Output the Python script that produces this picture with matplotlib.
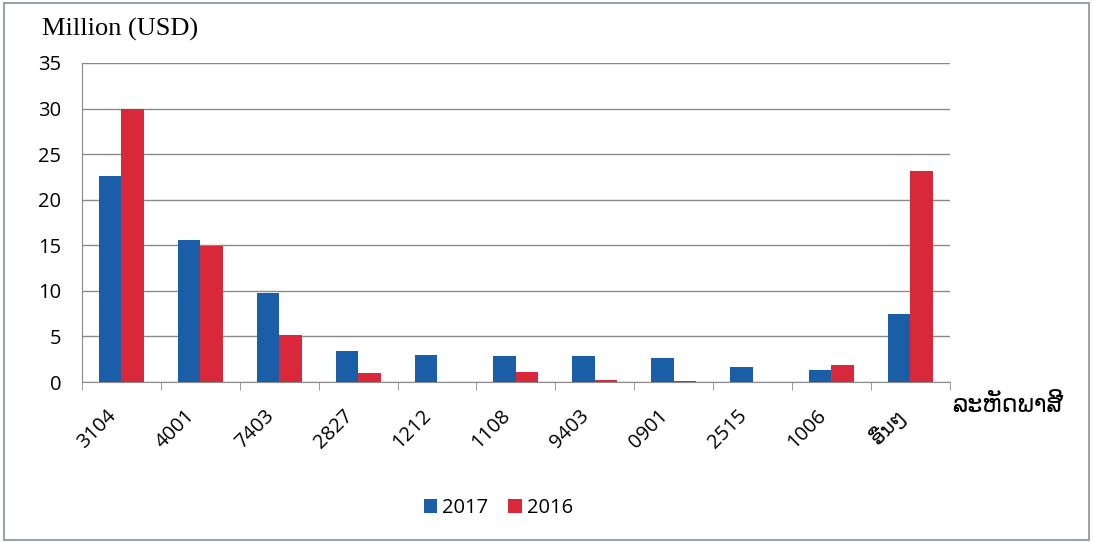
import matplotlib
matplotlib.use("Agg")
import matplotlib.pyplot as plt
import matplotlib.transforms as mtransforms
import numpy as np
from matplotlib.patches import Rectangle

categories = ["3104", "4001", "7403", "2827", "1212", "1108", "9403", "0901", "2515", "1006", "ອື່ນໆ"]
values_2017 = [22.6, 15.6, 9.8, 3.4, 3.0, 2.8, 2.8, 2.6, 1.6, 1.3, 7.5]
values_2016 = [30.0, 14.9, 5.2, 1.0, 0.0, 1.1, 0.2, 0.1, 0.0, 1.9, 23.1]
yticks = [0, 5, 10, 15, 20, 25, 30, 35]

blue = "#1b5ea8"
red = "#d8283a"

fig = plt.figure(figsize=(10.93, 5.43), dpi=100)
fig.patch.set_facecolor("white")
fig.add_artist(Rectangle((0.004, 0.006), 0.992, 0.988, transform=fig.transFigure,
                         fill=False, edgecolor="#9aa3ad", linewidth=1.5))

ax = fig.add_axes([0.075, 0.2965, 0.794, 0.5875])
x = np.arange(len(categories))
w = 0.285
ax.bar(x - w / 2, values_2017, width=w, color=blue, label="2017", zorder=3)
ax.bar(x + w / 2, values_2016, width=w, color=red, label="2016", zorder=3)

ax.set_xlim(-0.5, len(categories) - 0.5)
ax.set_ylim(0, 35)
ax.set_yticks(yticks)
ax.set_yticklabels([str(t) for t in yticks], fontsize=14.5, family="Open Sans")
ax.yaxis.grid(True, color="#8a8a8a", linewidth=1.0, zorder=0)
ax.tick_params(axis="y", length=0, pad=15)
ax.set_xticks(x)
ax.set_xticklabels(categories, rotation=45, ha="right", va="center", rotation_mode="anchor",
                   fontsize=14.5, family=["Open Sans", "DejaVu Sans"])
ax.tick_params(axis="x", length=0, pad=22)
offset = mtransforms.ScaledTranslation(-6 / 72, 0, fig.dpi_scale_trans)
for lbl in ax.get_xticklabels():
    lbl.set_transform(lbl.get_transform() + offset)
ax.set_xticks(np.arange(-0.5, len(categories), 1.0), minor=True)
ax.tick_params(axis="x", which="minor", length=6, color="#8a8a8a", direction="out")
for s in ["top", "right"]:
    ax.spines[s].set_visible(False)
ax.spines["left"].set_color("#8a8a8a")
ax.spines["bottom"].set_color("#8a8a8a")

fig.text(0.038, 0.945, "Million (USD)", fontsize=19, family="Liberation Serif", va="center")
fig.text(0.871, 0.254, "ລະຫັດພາສີ", fontsize=17, family="DejaVu Sans", va="center")

handles, labels = ax.get_legend_handles_labels()
fig.legend(handles, labels, loc="center", bbox_to_anchor=(0.456, 0.064), ncol=2, frameon=False,
           handlelength=0.65, handleheight=0.65, handletextpad=0.25,
           columnspacing=1.0, prop={"family": "Open Sans", "size": 14.5})

fig.savefig("out.png", dpi=100)
